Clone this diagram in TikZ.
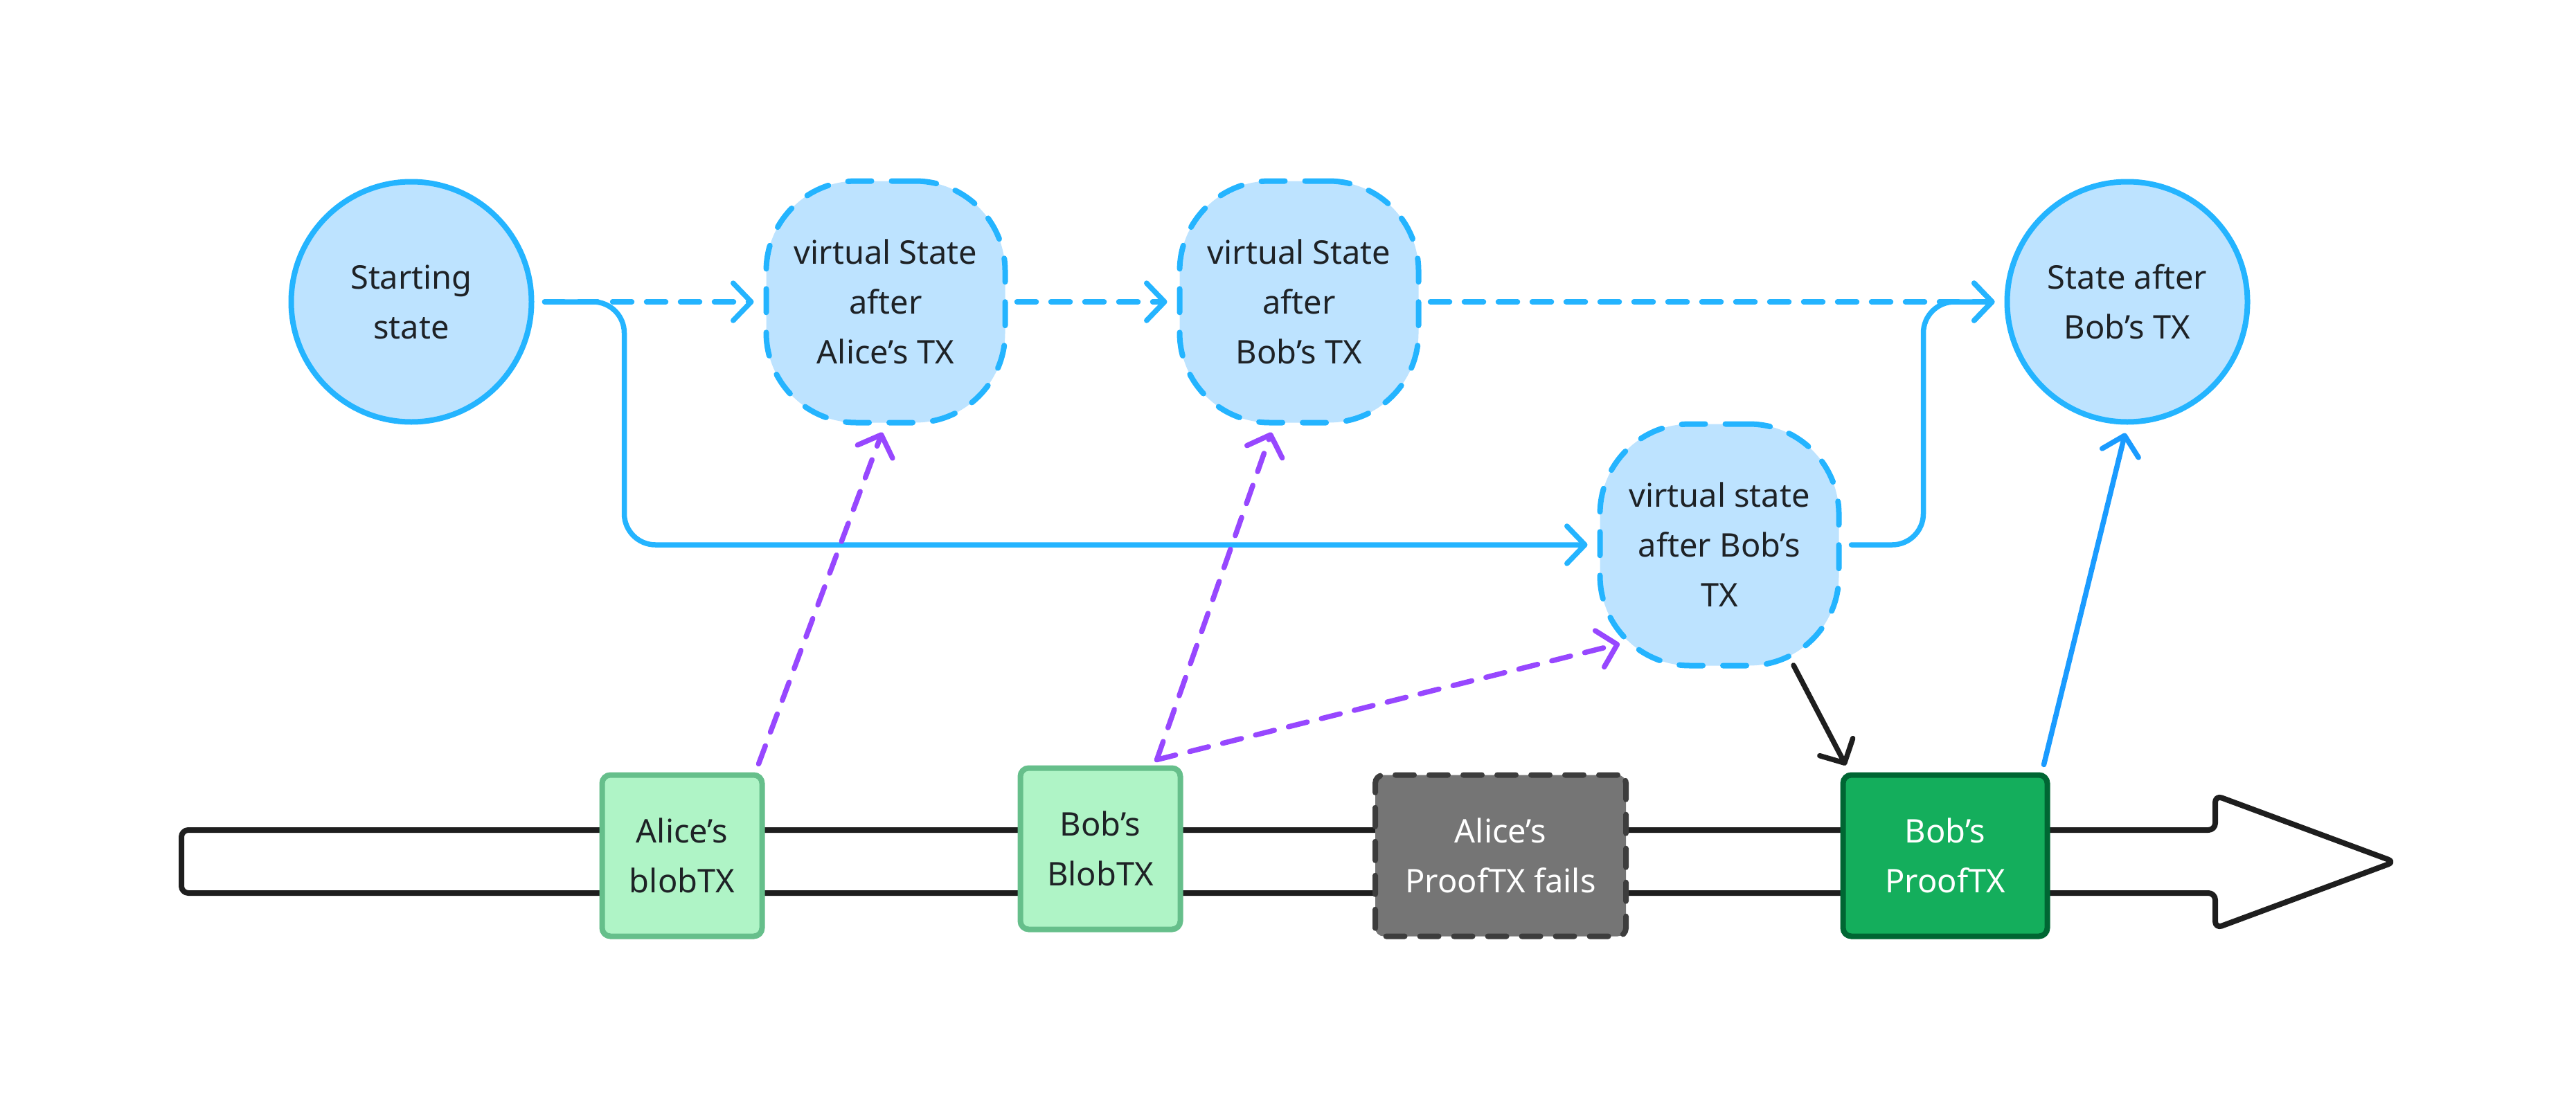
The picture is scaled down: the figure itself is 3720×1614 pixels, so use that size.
\documentclass[tikz,border=0pt]{standalone}
\usepackage{fontspec}
\setmainfont{Noto Sans}
\usetikzlibrary{arrows.meta}
\definecolor{lbfill}{HTML}{BDE3FF}
\definecolor{lbline}{HTML}{24B4FF}
\definecolor{blueb}{HTML}{1A9BFF}
\definecolor{gfill}{HTML}{AFF4C6}
\definecolor{gline}{HTML}{66BF8B}
\definecolor{dgfill}{HTML}{14AE5C}
\definecolor{dgline}{HTML}{006633}
\definecolor{grfill}{HTML}{757575}
\definecolor{grline}{HTML}{3D3D3D}
\definecolor{purp}{HTML}{9747FF}
\definecolor{txt}{HTML}{1E2226}
\definecolor{blk}{HTML}{1E1E1E}
\begin{document}
\begin{tikzpicture}[x=1pt,y=-1pt,
  lbl/.style={font=\fontsize{47}{72}\selectfont, align=center, text=txt},
  statecirc/.style={lbl, circle, draw=lbline, fill=lbfill, line width=8pt, minimum size=347pt, inner sep=0pt},
  vstate/.style={lbl, rectangle, rounded corners=130pt, draw=lbline, fill=lbfill, line width=8pt, minimum width=345pt, minimum height=349pt, inner sep=0pt, dash pattern=on 34pt off 29pt, line cap=round},
  txbox/.style={lbl, rectangle, rounded corners=12pt, line width=8pt, minimum height=233pt, inner sep=0pt},
  blobbox/.style={txbox, draw=gline, fill=gfill, minimum width=231pt},
  barb/.style={-{Straight Barb[length=26pt,width=54pt,round]}},
  bline/.style={draw=lbline, line width=7.5pt, line cap=round, line join=round},
  dline/.style={dash pattern=on 28pt off 21pt},
  pline/.style={draw=purp, line width=7.5pt, line cap=round, line join=round, dash pattern=on 28pt off 21pt, barb}
]
\useasboundingbox (0,0) rectangle (3720,1614);
% timeline
\draw[blk, line width=8pt, rounded corners=10pt, line join=round] (262,1199) -- (3199,1199) -- (3199,1149) -- (3458,1245) -- (3199,1341) -- (3199,1290) -- (262,1290) -- cycle;
% state nodes
\node[statecirc] (s) at (594,436) {Starting\\state};
\node[vstate] (b1) at (1279,436) {virtual State\\after\\Alice’s TX};
\node[vstate] (b2) at (1876,436) {virtual State\\after\\Bob’s TX};
\node[statecirc] (e) at (3072,436) {State after\\Bob’s TX};
\node[vstate] (b3) at (2483,787) {virtual state\\after Bob’s\\TX};
% timeline boxes
\node[blobbox] (ablob) at (985,1236) {Alice’s\\blobTX};
\node[blobbox] (bblob) at (1589,1226) {Bob’s\\BlobTX};
\node[txbox, draw=grline, fill=grfill, text=white, minimum width=362pt, dash pattern=on 27pt off 22pt, line cap=round] (aproof) at (2167,1236) {Alice’s\\ProofTX fails};
\node[txbox, draw=dgline, fill=dgfill, text=white, minimum width=295pt] (bproof) at (2809,1236) {Bob’s\\ProofTX};
% blue connectors
\draw[bline, barb, rounded corners=45pt] ([xshift=15pt]s.east) -- ([xshift=130pt]s.east) |- ([xshift=-14pt]b3.west);
\draw[bline, dline, barb] ([xshift=15pt]s.east) -- ([xshift=-14pt]b1.west);
\draw[bline, dline, barb] ([xshift=13pt]b1.east) -- ([xshift=-14pt]b2.west);
\draw[bline, dline, barb] ([xshift=13pt]b2.east) -- ([xshift=-14pt]e.west);
\draw[bline, barb, rounded corners=45pt] ([xshift=14pt]b3.east) -| ([xshift=-117pt]e.west) -- ([xshift=-14pt]e.west);
% purple connectors
\draw[pline] ([xshift=-9pt,yshift=12pt]ablob.north east) -- ([xshift=-5pt,yshift=-10pt]b1.south);
\draw[pline] ([xshift=-38pt,yshift=8pt]bblob.north east) -- ([xshift=-40pt,yshift=-10pt]b2.south);
\draw[pline] ([xshift=-38pt,yshift=8pt]bblob.north east) -- ([xshift=-144pt,yshift=-143pt]b3.center);
% black and blue to/from Bob's ProofTX
\draw[blk, line width=7.5pt, line cap=round, barb] ([xshift=107pt,yshift=-174pt]b3.center) -- ([xshift=8pt,yshift=10pt]bproof.north west);
\draw[draw=blueb, line width=7.5pt, line cap=round, barb] ([xshift=-9pt,yshift=11pt]bproof.north east) -- ([xshift=-3pt,yshift=-12pt]e.south);
\end{tikzpicture}
\end{document}
